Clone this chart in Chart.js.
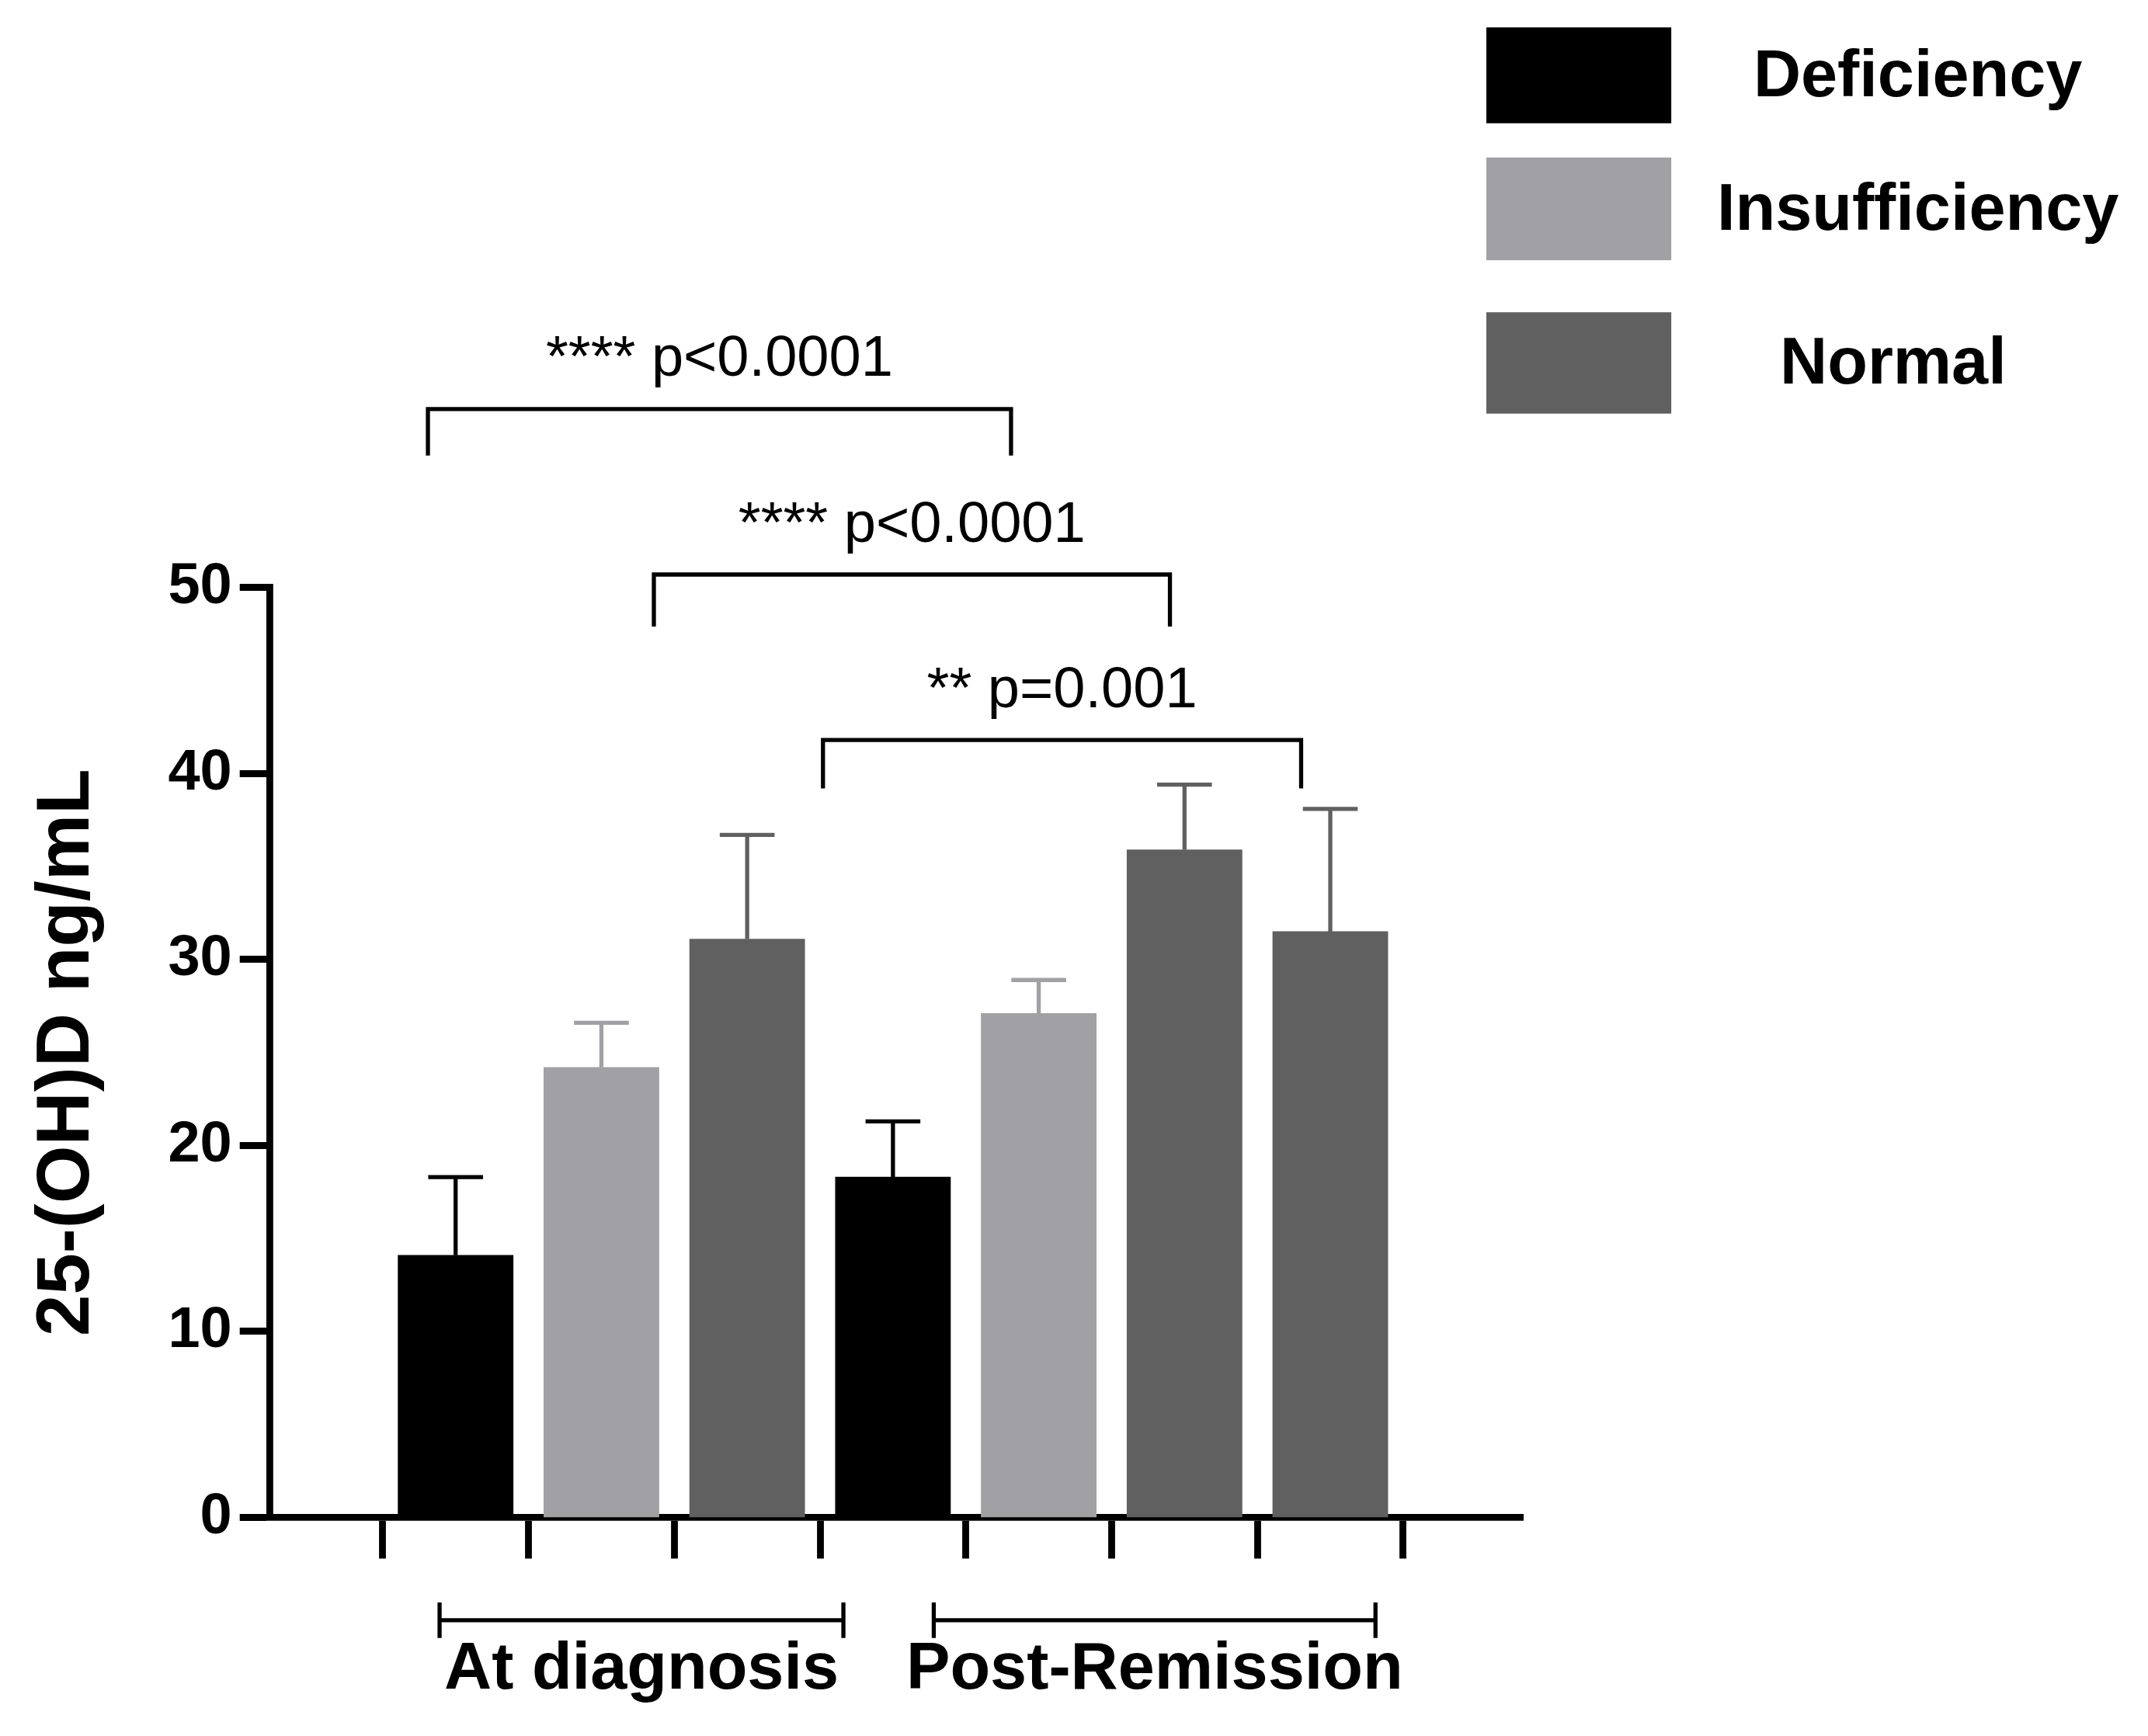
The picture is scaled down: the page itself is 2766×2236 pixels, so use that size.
<!DOCTYPE html>
<html>
<head>
<meta charset="utf-8">
<script src="https://cdn.jsdelivr.net/npm/chart.js@4"></script>
<style>html,body{margin:0;background:#fff}</style>
</head>
<body>
<canvas id="c" width="2766" height="2236"></canvas>
<script>
// data
var groups = ['At diagnosis', 'Post-Remission'];
var seriesNames = ['Deficiency', 'Insufficiency', 'Normal'];
var seriesColors = ['#000000', '#a1a0a5', '#606060'];
var barSeries = [0, 1, 2, 0, 1, 2, 2];
var means = [14.1, 24.2, 31.1, 18.3, 27.1, 35.9, 31.5];
var errTop = [18.3, 26.6, 36.7, 21.3, 28.9, 39.4, 38.1];
var yTicks = [0, 10, 20, 30, 40, 50];
var brackets = [
  {x1: -0.19, x2: 3.81, y: 59.6, leg: 57.1, text: '**** p<0.0001'},
  {x1: 1.36, x2: 4.9, y: 50.7, leg: 47.9, text: '**** p<0.0001'},
  {x1: 2.52, x2: 5.8, y: 41.8, leg: 39.2, text: '** p=0.001'}
];
var groupSpans = [[-0.11, 2.66], [3.28, 6.31]];

var S = 2766 / 1568;
var F = 'Arial, "Liberation Sans", sans-serif';

var overlay = {
  id: 'overlay',
  afterDatasetsDraw: function (chart) {
    var c = chart.ctx, xs = chart.scales.x, ys = chart.scales.y;
    c.save();
    c.lineCap = 'butt';
    // error bars
    means.forEach(function (m, i) {
      var x = xs.getPixelForValue(i), y0 = ys.getPixelForValue(m), y1 = ys.getPixelForValue(errTop[i]);
      c.strokeStyle = seriesColors[barSeries[i]];
      c.lineWidth = 3 * S;
      c.beginPath();
      c.moveTo(x, y0); c.lineTo(x, y1);
      c.moveTo(x - 20 * S, y1); c.lineTo(x + 20 * S, y1);
      c.stroke();
    });
    // significance brackets
    c.strokeStyle = '#000'; c.fillStyle = '#000'; c.lineWidth = 3 * S;
    c.font = (42 * S) + 'px ' + F; c.textAlign = 'center'; c.textBaseline = 'alphabetic';
    brackets.forEach(function (b) {
      var a = xs.getPixelForValue(b.x1), e = xs.getPixelForValue(b.x2);
      var y = ys.getPixelForValue(b.y), l = ys.getPixelForValue(b.leg);
      c.beginPath();
      c.moveTo(a, l); c.lineTo(a, y); c.lineTo(e, y); c.lineTo(e, l);
      c.stroke();
      c.fillText(b.text, (a + e) / 2, y - 24 * S);
    });
    // group labels
    c.font = 'bold ' + (48 * S) + 'px ' + F; c.textBaseline = 'middle';
    var gy = 1183 * S;
    groupSpans.forEach(function (g, i) {
      var a = xs.getPixelForValue(g[0]), e = xs.getPixelForValue(g[1]);
      c.beginPath();
      c.moveTo(a, gy - 13 * S); c.lineTo(a, gy + 13 * S);
      c.moveTo(a, gy); c.lineTo(e, gy);
      c.moveTo(e, gy - 13 * S); c.lineTo(e, gy + 13 * S);
      c.stroke();
      c.fillText(groups[i], (a + e) / 2, 1220 * S);
    });
    // legend
    var boxY = [20, 115, 228], boxH = [70, 75, 74], textX = [1400, 1400, 1382];
    seriesNames.forEach(function (n, i) {
      c.fillStyle = seriesColors[i];
      c.fillRect(1085 * S, boxY[i] * S, 135 * S, boxH[i] * S);
      c.fillStyle = '#000';
      c.fillText(n, textX[i] * S, (boxY[i] + boxH[i] / 2 + 2) * S);
    });
    c.restore();
  }
};

new Chart(document.getElementById('c'), {
  type: 'bar',
  data: {
    datasets: [{
      data: means.map(function (v, i) { return {x: i, y: v}; }),
      backgroundColor: barSeries.map(function (s) { return seriesColors[s]; }),
      barThickness: 84 * S
    }]
  },
  plugins: [overlay],
  options: {
    responsive: false,
    animation: false,
    layout: {padding: {left: 0, top: 429 * S, right: 2766 - 1112 * S, bottom: 2236 - 1108 * S}},
    plugins: {legend: {display: false}, tooltip: {enabled: false}},
    scales: {
      x: {
        type: 'linear', min: -0.66, max: 6.71,
        afterBuildTicks: function (s) { s.ticks = [0, 1, 2, 3, 4, 5, 6].map(function (v) { return {value: v}; }); },
        afterFit: function (s) { s.height = 0; },
        ticks: {display: false},
        grid: {drawOnChartArea: false, tickLength: 30 * S, tickWidth: 5 * S, color: '#000'},
        border: {color: '#000', width: 5 * S}
      },
      y: {
        min: 0, max: 50,
        afterBuildTicks: function (s) { s.ticks = yTicks.map(function (v) { return {value: v}; }); },
        afterFit: function (s) { s.width = 197 * S; },
        ticks: {color: '#000', font: {family: F, size: 74, weight: 'bold'}, padding: 10},
        grid: {drawOnChartArea: false, tickLength: 22 * S, tickWidth: 5 * S, color: '#000'},
        border: {color: '#000', width: 5 * S},
        title: {display: true, text: '25-(OH)D ng/mL', color: '#000', font: {family: F, size: 96, weight: 'bold'}, padding: {top: 30, bottom: 20}}
      }
    }
  }
});
</script>
</body>
</html>
